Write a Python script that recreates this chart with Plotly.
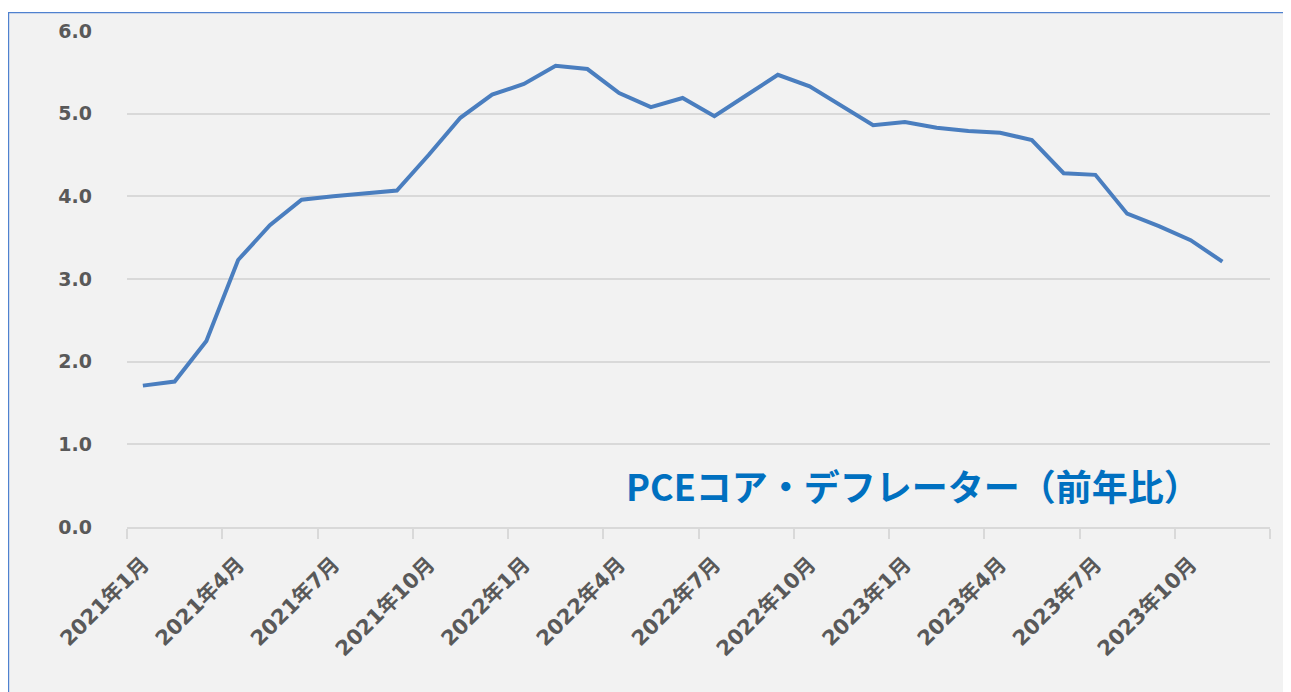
import plotly.graph_objects as go

# Month categories on the axis (Jan 2021 – Dec 2023)
categories = [
    "2021年1月", "2021年2月", "2021年3月", "2021年4月", "2021年5月", "2021年6月",
    "2021年7月", "2021年8月", "2021年9月", "2021年10月", "2021年11月", "2021年12月",
    "2022年1月", "2022年2月", "2022年3月", "2022年4月", "2022年5月", "2022年6月",
    "2022年7月", "2022年8月", "2022年9月", "2022年10月", "2022年11月", "2022年12月",
    "2023年1月", "2023年2月", "2023年3月", "2023年4月", "2023年5月", "2023年6月",
    "2023年7月", "2023年8月", "2023年9月", "2023年10月", "2023年11月", "2023年12月",
]

# PCE core deflator, y/y % (Jan 2021 – Nov 2023)
pce_core = [
    1.71, 1.76, 2.25, 3.23, 3.65, 3.96, 4.00, 4.03, 4.07, 4.50, 4.95, 5.23,
    5.36, 5.58, 5.54, 5.25, 5.08, 5.19, 4.97, 5.22, 5.47, 5.33, 5.10, 4.86,
    4.90, 4.83, 4.79, 4.77, 4.68, 4.28, 4.26, 3.79, 3.64, 3.47, 3.21,
]

tick_step = 3
x_idx = list(range(len(pce_core)))
tick_pos = list(range(0, len(categories), tick_step))
tick_text = [categories[i] for i in tick_pos]

# The page body has an 8px margin, so the figure is shifted by (8, 8)
OFF = 8
PAGE_W, PAGE_H = 1291, 692
W, H = PAGE_W - OFF, PAGE_H - OFF
PL, PR, PT, PB = 127, 1270, 29, 527          # plot area in page pixels
ML, MR, MT, MB = PL - OFF, W - (PR - OFF), PT - OFF, H - (PB - OFF)
PW, PH = PR - PL, PB - PT


def px_x(p):
    return (p - PL) / PW


def px_y(p):
    return (PB - p) / PH


fig = go.Figure()
fig.add_trace(go.Scatter(
    x=x_idx, y=pce_core, mode="lines",
    line=dict(color="#4a7ebf", width=4),
    hoverinfo="skip", showlegend=False,
))

fig.add_shape(
    type="rect", xref="paper", yref="paper", layer="below",
    x0=px_x(8.6), x1=px_x(1330), y0=px_y(10.5), y1=px_y(730),
    fillcolor="#f2f2f2", line=dict(color="#4f81cf", width=1.2),
)

fig.add_annotation(
    text="PCEコア・デフレーター（前年比）",
    xref="paper", yref="paper", x=px_x(913), y=px_y(485),
    xanchor="center", yanchor="middle", showarrow=False,
    font=dict(family="Noto Sans CJK JP", size=36, color="#0070c0", weight="bold"),
)

tick_font = dict(family="DejaVu Sans, Noto Sans CJK JP", color="#595959", weight="bold")

fig.update_layout(
    width=W, height=H,
    margin=dict(l=ML, r=MR, t=MT, b=MB, pad=0),
    paper_bgcolor="white", plot_bgcolor="#f2f2f2",
    showlegend=False,
    xaxis=dict(
        range=[-0.5, len(categories) - 0.5],
        tickmode="array", tickvals=tick_pos, ticktext=tick_text,
        tickangle=-45, ticks="", ticklabelstandoff=15,
        tickfont=dict(size=21, **tick_font),
        showgrid=False, zeroline=False,
        showline=True, linecolor="#d9d9d9", linewidth=1.5,
        minor=dict(ticks="outside", tickmode="linear", tick0=-0.5, dtick=tick_step,
                   ticklen=10, tickcolor="#d9d9d9", tickwidth=1.5, showgrid=False),
    ),
    yaxis=dict(
        range=[0, 6], tickmode="linear", tick0=0, dtick=1, tickformat=".1f",
        showgrid=True, gridcolor="#d9d9d9", gridwidth=1.5,
        zeroline=False, showline=False, ticks="", ticklabelstandoff=34,
        tickfont=dict(size=19, **tick_font),
    ),
)

fig.write_html("out.html")
